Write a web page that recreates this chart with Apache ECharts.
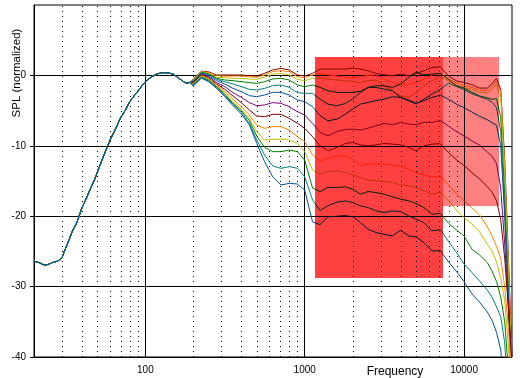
<!DOCTYPE html>
<html><head><meta charset="utf-8">
<script src="https://cdn.jsdelivr.net/npm/echarts@6/dist/echarts.min.js"></script>
<style>html,body{margin:0;padding:0;background:#fff}#c{width:520px;height:378px}</style>
</head><body><div id="c"></div>
<script>
// ---- data ----
const lowFreq = [20,21,22,23,24,25,26,27,28,29,30,31,33,35,37,40,42,45,48,51,55,60,65,70,75,80,85,90,95,100,110,120,130,140,150,160,170,180,190];
const lowSpl  = [-26.4,-26.5,-26.7,-26.9,-26.9,-26.8,-26.6,-26.5,-26.4,-26.2,-25.9,-25.0,-23.5,-22.0,-21.0,-18.8,-17.8,-16.2,-14.8,-13.2,-11.3,-9.2,-7.6,-6.0,-4.9,-3.7,-2.9,-2.2,-1.5,-0.9,-0.15,0.25,0.4,0.35,0.15,-0.3,-0.75,-1.1,-1.0];
const hiFreq = [200,225,250,280,315,355,400,450,500,560,630,710,800,900,1000,1120,1250,1400,1600,1800,2000,2240,2500,2800,3150,3550,4000,4500,5000,5600,6300,7100,8000,9000,10000,11200,12500,14000,15000,16000,17000,18000,19000,20000];

const spl0  = [-0.5,0.6,0.5, 0.06,0.06,0.06,0.06,-0.04,-0.09,0.29,0.77,1.0,0.77,0.06,-0.09,0.29, 0.9,0.9,0.9,0.9,1.04,0.9,0.66,0.28,0.09,-0.05,0.19,-0.05,0.28,0.66,1.14,1.2, -0.1,-0.8,-1.0,-1.3,-1.8,-1.8,-1.2,-0.4,-2,-12,-26,-40];
const spl10 = [-0.55,0.55,0.4, -0.04,-0.09,-0.09,-0.09,-0.18,-0.27,0.06,0.53,0.67,0.53,-0.18,-0.32,0.06, 0.28,0.09,-0.09,-0.28,-0.38,-0.19,0,0.09,-0.52,-1.0,-1.33,-1.23,-1.0,-0.52,0.09,0.3, -0.5,-1.1,-1.4,-1.7,-2.1,-2.2,-1.6,-0.8,-2.5,-13,-27,-42];
const spl20 = [-0.6,0.5,0.3, -0.27,-0.32,-0.42,-0.42,-0.51,-0.56,-0.27,0.2,0.29,0.06,-0.56,-0.75,-0.42, -0.38,-0.52,-0.66,-0.76,-0.85,-1.0,-0.76,-0.66,-1.47,-2.18,-2.89,-3.13,-2.42,-1.47,-0.76,-0.1, -0.8,-1.4,-1.7,-2.0,-2.4,-2.5,-2.0,-1.2,-3.5,-14,-28,-43];
const spl30 = [-0.7,0.45,0.2, -0.42,-0.65,-0.75,-0.89,-1.03,-1.13,-0.89,-0.51,-0.42,-0.65,-1.36,-1.6,-1.36, -1.71,-2.18,-2.42,-2.42,-2.42,-2.27,-1.71,-1.47,-1.47,-1.71,-1.23,-0.28,0.43,0.09,0.19,0.3, -0.6,-1.5,-1.8,-2.4,-2.9,-3.2,-3.4,-3.3,-6,-17,-31,-44];
const spl40 = [-0.8,0.4,0.1, -0.56,-0.89,-1.22,-1.6,-1.98,-2.07,-1.84,-1.46,-1.36,-1.7,-2.45,-2.55,-2.55, -3.36,-4.08,-4.31,-3.98,-3.36,-2.42,-1.71,-1.71,-1.94,-2.18,-3.13,-3.6,-4.08,-3.36,-2.65,-2.0, -1.1,-1.6,-2.0,-2.6,-3.0,-3.4,-3.8,-4.6,-8,-19,-33,-46];
const spl50 = [-0.9,0.3,-0.05, -0.75,-1.22,-1.84,-2.31,-2.88,-3.02,-2.78,-2.41,-2.41,-2.78,-3.49,-3.73,-4.44, -5.73,-6.45,-6.21,-5.5,-4.79,-4.08,-3.84,-3.6,-3.36,-3.03,-3.13,-3.51,-3.98,-3.6,-3.13,-2.8, -3.4,-4.1,-4.6,-5.2,-5.8,-6.3,-6.7,-7.1,-10,-20,-32,-45];
const spl60 = [-1.0,0.2,-0.2, -1.03,-1.6,-2.45,-3.12,-3.87,-4.3,-4.2,-3.87,-3.97,-4.44,-5.15,-5.63,-6.81, -8.1,-8.58,-7.96,-7.68,-7.63,-7.77,-7.49,-7.16,-6.82,-7.01,-6.68,-6.92,-7.01,-6.68,-6.68,-6.4, -7.2,-8.0,-8.6,-9.3,-9.9,-10.9,-11.5,-12.5,-16,-24,-33,-42];
const spl70 = [-1.1,0.1,-0.35, -1.22,-1.98,-2.93,-3.87,-4.92,-5.77,-5.86,-5.53,-5.53,-6.1,-6.81,-7.52,-8.7, -10.0,-10.71,-10.24,-9.67,-9.53,-9.86,-10.0,-9.86,-9.67,-9.76,-9.86,-10.24,-10.71,-10.0,-9.76,-9.7, -11.0,-12.0,-12.8,-13.8,-14.7,-15.8,-16.6,-17.8,-20.5,-26,-33,-41];
const spl80 = [-1.2,0.0,-0.5, -1.36,-2.31,-3.4,-4.44,-5.63,-7.05,-7.52,-7.28,-7.28,-7.76,-8.7,-9.41,-11.31, -12.13,-11.75,-11.42,-11.42,-11.9,-12.84,-12.61,-12.51,-12.61,-12.75,-12.84,-13.32,-13.79,-14.12,-14.41,-14.3, -15.6,-16.8,-17.8,-18.8,-19.8,-21.5,-22.8,-24.3,-26.0,-30,-36,-43];
const spl90 = [-1.3,-0.1,-0.6, -1.51,-2.55,-3.73,-4.82,-6.1,-7.99,-9.18,-9.08,-9.04,-9.18,-9.65,-10.83,-13.44, -14.03,-13.65,-13.55,-13.79,-14.12,-14.5,-14.88,-14.98,-15.07,-15.21,-15.55,-15.69,-15.92,-16.4,-16.87,-16.6, -17.8,-19.2,-20.2,-21.1,-22.2,-24.0,-25.0,-26.5,-28.8,-32,-38.5,-46];
const spl100 = [-1.35,-0.2,-0.7, -1.6,-2.69,-3.97,-5.01,-6.43,-8.61,-10.22,-10.83,-10.83,-10.6,-10.83,-12.02,-16.0, -16.5,-15.92,-15.92,-15.83,-16.16,-16.87,-16.49,-16.64,-16.87,-17.25,-17.58,-17.82,-18.2,-18.77,-19.72,-19.6, -21.0,-22.0,-22.8,-24.7,-25.5,-26.6,-27.8,-29.3,-31.5,-35,-42,-48];
const spl110 = [-1.4,-0.3,-0.8, -1.7,-2.83,-4.11,-5.25,-6.81,-9.18,-11.31,-12.87,-13.2,-12.96,-13.2,-14.4,-17.7, -19.2,-18.5,-18.0,-17.82,-18.06,-18.53,-18.77,-19.24,-19.48,-19.24,-19.34,-19.95,-20.43,-20.9,-22.09,-21.9, -23.6,-25.2,-26.8,-28.0,-29.2,-30.5,-31.5,-32.9,-34.3,-38,-46,-52];
const spl120 = [-1.5,-0.4,-0.9, -1.84,-3.02,-4.3,-5.48,-7.05,-9.65,-12.26,-14.4,-15.57,-15.33,-15.43,-16.28,-20.8, -21.2,-20.1,-20.0,-19.91,-20.09,-20.9,-21.85,-22.32,-22.56,-22.8,-21.99,-22.8,-22.94,-23.74,-24.93,-24.9, -26.5,-27.9,-29.3,-31.0,-32.2,-33.6,-34.8,-36.5,-39,-45,-50,-55];

const curves = [spl0,spl10,spl20,spl30,spl40,spl50,spl60,spl70,spl80,spl90,spl100,spl110,spl120];
const palette = ['#800000','#FF8000','#C0C000','#008000','#008080','#0050A0','#800080'];

const xTickVals = [100,1000,10000];
const yTickVals = [-40,-30,-20,-10,0];
const minorFreqs = [30,40,50,60,70,80,90,200,300,400,500,600,700,800,900,2000,3000,4000,5000,6000,7000,8000,9000];

// highlighted bands: [fLow, splTop, fHigh, splBottom]
const bandBright = [1160, 2.6, 7380, -28.8];
const bandLight  = [7380, 2.6, 16600, -18.5];
const bandColors = ['#FF4040','#FF8080'];

// ---- chart ----
const chart = echarts.init(document.getElementById('c'), null, {renderer:'canvas'});
const FONT = 'Liberation Sans, Arial, sans-serif';
const Y_MIN = -40, Y_MAX = 10;

const lineSeries = curves.map((vals, i) => ({
  type:'line', silent:true, symbol:'none', showSymbol:false, z:2,
  lineStyle:{color:palette[i % palette.length], width:1},
  data: lowFreq.map((f,j)=>[f, lowSpl[j]]).concat(hiFreq.map((f,j)=>[f, vals[j]]))
}));

chart.setOption({
  animation:false,
  backgroundColor:'#fff',
  grid:{left:34, right:8, top:5, bottom:21, show:true, borderColor:'#000', borderWidth:1, backgroundColor:'#fff'},
  xAxis:{
    type:'log', logBase:10, min:20, max:20000,
    axisLine:{show:true, lineStyle:{color:'#000', width:1}},
    axisTick:{show:true, length:5, lineStyle:{color:'#000'}, customValues:xTickVals},
    axisLabel:{color:'#000', fontSize:10, fontFamily:FONT, margin:8, customValues:xTickVals,
      formatter:v=>{const r=Math.round(v); return xTickVals.includes(r)?String(r):'';}},
    splitLine:{show:true, lineStyle:{color:'#000', width:1}}
  },
  yAxis:{
    type:'value', min:Y_MIN, max:Y_MAX, interval:10,
    axisLine:{show:true, lineStyle:{color:'#000', width:1}},
    axisTick:{show:true, length:4, lineStyle:{color:'#000'}, customValues:yTickVals},
    axisLabel:{color:'#000', fontSize:10, fontFamily:FONT, margin:8, customValues:yTickVals,
      formatter:v=>yTickVals.includes(v)?String(v):''},
    splitLine:{show:true, lineStyle:{color:'#000', width:1}}
  },
  graphic:[
    {type:'text', x:395, y:372, silent:true,
     style:{text:'Frequency', fill:'#000', font:'12px '+FONT, textAlign:'center', textVerticalAlign:'middle'}},
    {type:'text', x:17, y:73, rotation:Math.PI/2, silent:true,
     style:{text:'SPL (normalized)', fill:'#000', font:'11.5px '+FONT, textAlign:'center', textVerticalAlign:'middle'}}
  ],
  series:[
    // dotted minor frequency grid lines, positioned through the log axis
    {type:'custom', z:1, silent:true, clip:true,
     encode:{x:0},
     data:minorFreqs.map(f=>[f]),
     renderItem:(params, api)=>{
       const top = api.coord([api.value(0), Y_MAX]);
       const bot = api.coord([api.value(0), Y_MIN]);
       const x = Math.round(top[0]) + 0.5;
       return {type:'line', shape:{x1:x, y1:top[1]+1, x2:x, y2:bot[1]},
               style:{stroke:'#000', lineWidth:1, lineDash:[1,4]}};
     }}
  ].concat(lineSeries).concat([
    {type:'custom', z:10, silent:true, blendMode:'multiply',
     encode:{x:[0,2], y:[1,3]},
     data:[bandBright, bandLight],
     renderItem:(params, api)=>{
       const p0 = api.coord([api.value(0), api.value(1)]);
       const p1 = api.coord([api.value(2), api.value(3)]);
       const x0 = Math.round(p0[0]), y0 = Math.round(p0[1]);
       const x1 = Math.round(p1[0]), y1 = Math.round(p1[1]);
       return {type:'rect', shape:{x:x0, y:y0, width:x1-x0, height:y1-y0},
               style:{fill:bandColors[params.dataIndex]}};
     }}
  ])
});
</script>
</body></html>
